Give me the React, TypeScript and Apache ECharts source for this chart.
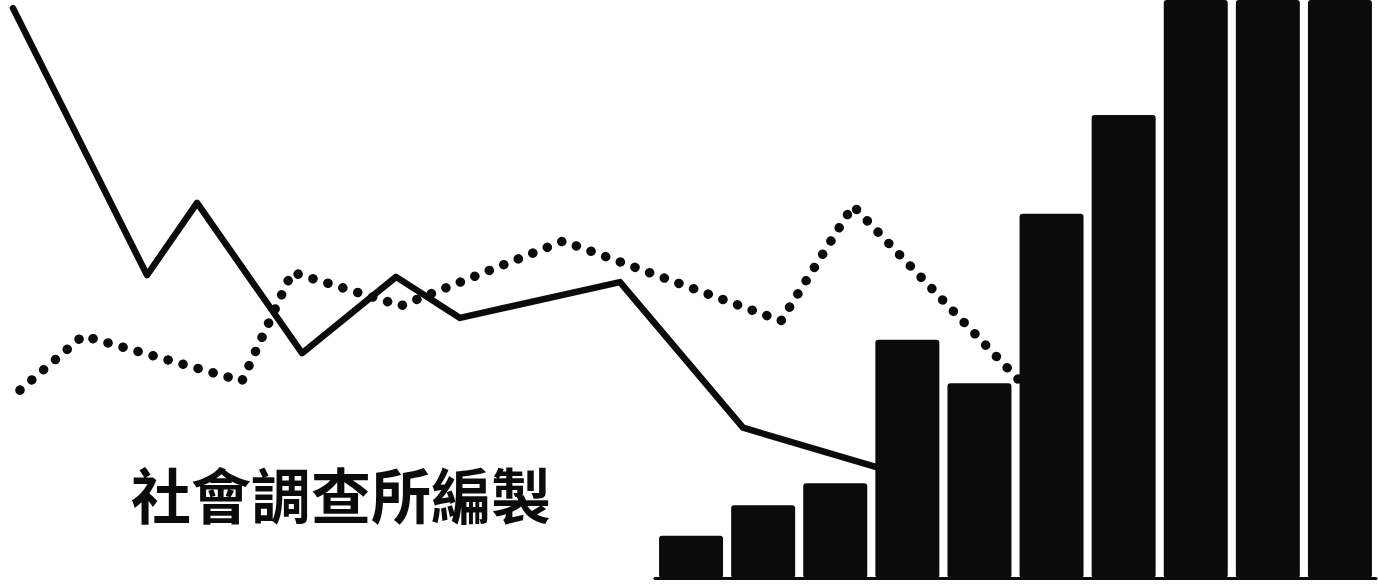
import React, { useEffect, useRef } from "react";
import * as echarts from "echarts";

// Bars (10 periods); the last three run past the top of the sheet
const barCategories = ["1", "2", "3", "4", "5", "6", "7", "8", "9", "10"];
const barValues = [7.3, 12.6, 16.4, 41.2, 33.7, 63.0, 80.1, 118, 122, 126];

// Solid line: [x position (0-100 scale), value]
const solidLine: [number, number][] = [
  [0.94, 98.6],
  [10.67, 52.4],
  [14.3, 64.9],
  [21.92, 38.9],
  [28.74, 52.1],
  [33.38, 45.0],
  [44.99, 51.2],
  [53.92, 26.0],
  [64.59, 18.5],
];

// Dotted line: [x position (0-100 scale), value]
const dottedLine: [number, number][] = [
  [1.45, 32.5],
  [6.02, 41.9],
  [17.56, 34.1],
  [21.19, 52.9],
  [29.1, 47.1],
  [40.86, 58.3],
  [56.68, 44.5],
  [61.9, 64.4],
  [73.8, 34.6],
  [75.83, 29.9],
];

const footerText = "社會調查所編製";

export default function App() {
  const ref = useRef<HTMLDivElement>(null);

  useEffect(() => {
    if (!ref.current) return;
    const chart = echarts.init(ref.current, null, { renderer: "svg" });
    const ink = "#0b0b0b";
    chart.setOption({
      animation: false,
      backgroundColor: "#ffffff",
      grid: [
        { left: 0, right: 0, top: 0, bottom: 10 },
        { left: 655, right: 2, top: 0, bottom: 10 },
      ],
      xAxis: [
        { type: "value", gridIndex: 0, min: 0, max: 100, show: false },
        {
          type: "category",
          gridIndex: 1,
          data: barCategories,
          offset: 6,
          axisLine: {
            show: true,
            lineStyle: { width: 3, color: ink },
          },
          axisTick: { show: false },
          axisLabel: { show: false },
          splitLine: { show: false },
        },
      ],
      yAxis: [
        { type: "value", gridIndex: 0, min: 0, max: 100, show: false },
        { type: "value", gridIndex: 1, min: 0, max: 100, show: false },
      ],
      series: [
        {
          type: "line",
          xAxisIndex: 0,
          yAxisIndex: 0,
          data: solidLine,
          symbol: "none",
          z: 2,
          lineStyle: { color: ink, width: 6.5, cap: "round", join: "round" },
        },
        {
          type: "line",
          xAxisIndex: 0,
          yAxisIndex: 0,
          data: dottedLine,
          symbol: "none",
          z: 2,
          lineStyle: {
            color: ink,
            width: 9.5,
            type: [0.1, 15.5],
            cap: "round",
            join: "round",
          },
        },
        {
          type: "bar",
          xAxisIndex: 1,
          yAxisIndex: 1,
          data: barValues,
          barWidth: 64,
          z: 5,
          itemStyle: { color: ink, borderRadius: 3 },
        },
      ],
      graphic: [
        {
          type: "text",
          left: 131,
          top: 462,
          z: 10,
          style: {
            text: footerText,
            fontFamily: '"Noto Sans CJK TC", "Noto Sans CJK SC", sans-serif',
            fontWeight: "bold",
            fontSize: 60,
            fill: ink,
          },
        },
      ],
    });
    return () => chart.dispose();
  }, []);

  return (
    <div
      ref={ref}
      style={{ position: "fixed", left: 0, top: 0, width: 1378, height: 588 }}
    />
  );
}
